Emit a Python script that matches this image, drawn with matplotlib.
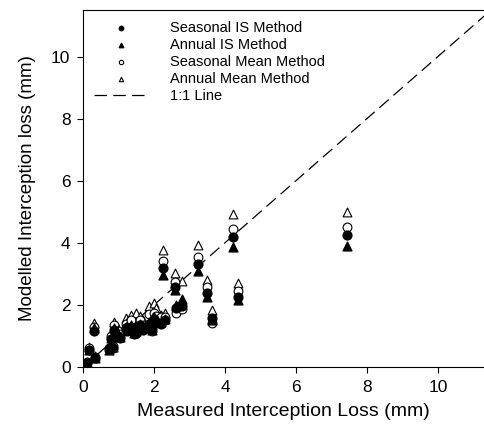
import numpy as np
import matplotlib
matplotlib.use('Agg')
from matplotlib import pyplot as plt

plt.rcParams['font.family'] = ['Liberation Sans', 'DejaVu Sans']

# measured interception loss per event (mm)
measured = [0.12, 0.35, 0.18, 0.30, 0.72, 0.85, 0.80, 0.88, 1.00, 1.05,
            1.20, 1.25, 1.35, 1.45, 1.50, 1.60, 1.70, 1.85, 1.95, 2.00,
            2.05, 2.20, 2.25, 2.30, 2.60, 2.62, 2.78, 3.24, 3.50, 3.63,
            4.22, 4.36, 7.45]

seasonal_is = [0.12, 0.28, 0.55, 1.17, 0.58, 0.62, 0.90, 1.20, 1.00, 0.95,
               1.25, 1.15, 1.30, 1.05, 1.10, 1.35, 1.20, 1.40, 1.25, 1.55,
               1.45, 1.38, 3.18, 1.50, 2.57, 1.90, 1.95, 3.32, 2.38, 1.58,
               4.20, 2.27, 4.25]
annual_is = [0.13, 0.30, 0.55, 1.25, 0.56, 0.64, 0.92, 1.25, 1.05, 0.98,
             1.30, 1.20, 1.35, 1.10, 1.15, 1.40, 1.25, 1.45, 1.20, 1.60,
             1.50, 1.45, 2.97, 1.55, 2.48, 1.96, 2.19, 3.10, 2.27, 1.50,
             3.85, 2.16, 3.90]
seasonal_mean = [0.15, 0.32, 0.62, 1.30, 0.62, 0.68, 1.00, 1.35, 1.15, 1.05,
                 1.40, 1.30, 1.50, 1.20, 1.25, 1.50, 1.35, 1.70, 1.15, 1.75,
                 1.65, 1.60, 3.40, 1.60, 2.75, 1.73, 1.86, 3.55, 2.58, 1.42,
                 4.45, 2.45, 4.50]
annual_mean = [0.17, 0.34, 0.66, 1.42, 0.66, 0.72, 1.10, 1.46, 1.25, 1.12,
               1.57, 1.45, 1.68, 1.35, 1.73, 1.65, 1.50, 1.95, 1.30, 2.05,
               1.90, 1.67, 3.77, 1.75, 3.03, 2.00, 2.77, 3.94, 2.80, 1.84,
               4.93, 2.70, 5.00]

ticks = [0, 2, 4, 6, 8, 10]

fig = plt.figure(figsize=(4.84, 4.32), dpi=100)
ax = fig.add_axes([83 / 484, 65 / 432, 401 / 484, 357 / 432])

ax.plot([0, 11.5], [0, 11.5], color='black', lw=0.9, dashes=(10, 5),
        label='1:1 Line', zorder=1)
ax.scatter(measured, annual_mean, marker='^', s=40, facecolors='white',
           edgecolors='black', linewidths=0.8, label='Annual Mean Method', zorder=2)
ax.scatter(measured, seasonal_mean, marker='o', s=40, facecolors='white',
           edgecolors='black', linewidths=0.8, label='Seasonal Mean Method', zorder=3)
ax.scatter(measured, annual_is, marker='^', s=40, color='black',
           label='Annual IS Method', zorder=4)
ax.scatter(measured, seasonal_is, marker='o', s=40, color='black',
           label='Seasonal IS Method', zorder=5)

ax.set_xlim(0, 11.3)
ax.set_ylim(0, 11.5)
ax.set_xticks(ticks)
ax.set_yticks(ticks)
ax.tick_params(direction='out', length=4, width=0.8, labelsize=12.5, pad=5)
ax.spines['right'].set_visible(False)
for s in ['left', 'bottom', 'top']:
    ax.spines[s].set_linewidth(0.8)

ax.set_xlabel('Measured Interception Loss (mm)', fontsize=14, labelpad=6)
ax.set_ylabel('Modelled Interception loss (mm)', fontsize=13.5, labelpad=11)

handles, labels = ax.get_legend_handles_labels()
order = [4, 3, 2, 1, 0]
leg = ax.legend([handles[i] for i in order], [labels[i] for i in order],
                loc='upper left', bbox_to_anchor=(0.005, 0.995), frameon=False,
                fontsize=10.5, handlelength=3.8, handletextpad=1.4,
                labelspacing=0.22, markerscale=0.5, scatterpoints=1,
                borderaxespad=0.2)

fig.savefig('out.png', dpi=100)
